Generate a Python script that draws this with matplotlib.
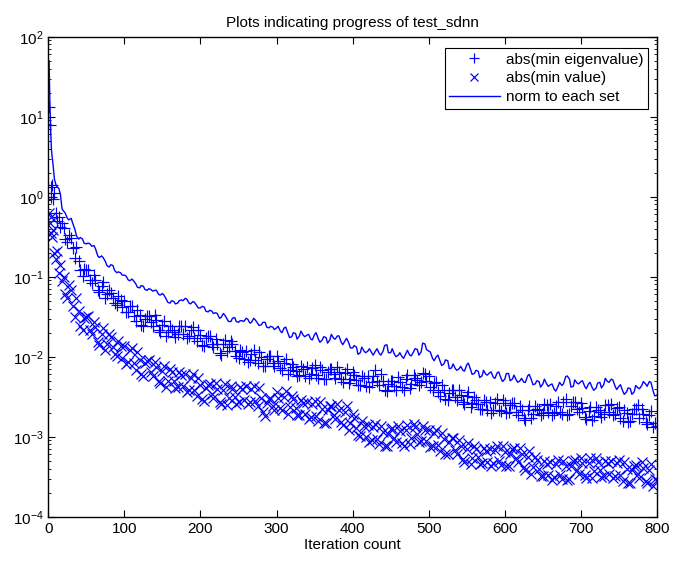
import numpy as np
import matplotlib
matplotlib.use("Agg")
import matplotlib.pyplot as plt
from matplotlib.ticker import FixedLocator, NullLocator, NullFormatter

plt.rcParams['font.family'] = ['Liberation Sans', 'DejaVu Sans']
plt.rcParams['mathtext.default'] = 'regular'

iters = [1, 2, 3, 4, 5, 6, 8, 10, 12, 14, 16, 18] + list(range(20, 801, 5))
iters_b = list(range(22, 800, 5))   # second reading, between the first ones

# values are read as decades on the log axis (plotted as 10**value)
eig_exp = [
    1.12, 0.90, 0.12, 0.00, 0.15, -0.03, 0.05, -0.20, -0.30, -0.25, -0.38, -0.33,
    -0.39, -0.56, -0.51, -0.77, -0.80, -0.99, -0.92, -1.04, -0.98, -1.16,
    -1.11, -1.26, -1.16, -1.27, -1.35, -1.29, -1.30, -1.44, -1.36, -1.55,
    -1.48, -1.62, -1.49, -1.57, -1.48, -1.66, -1.60, -1.74, -1.62, -1.69,
    -1.72, -1.62, -1.62, -1.74, -1.63, -1.80, -1.73, -1.86, -1.74, -1.84,
    -1.78, -1.95, -1.84, -1.93, -1.80, -1.93, -2.02, -1.94, -1.93, -2.04,
    -1.91, -2.08, -2.00, -2.12, -1.99, -2.08, -1.99, -2.14, -2.08, -2.22,
    -2.09, -2.18, -2.23, -2.15, -2.13, -2.22, -2.10, -2.27, -2.16, -2.28,
    -2.15, -2.22, -2.13, -2.28, -2.20, -2.33, -2.19, -2.29, -2.35, -2.27,
    -2.24, -2.32, -2.17, -2.35, -2.30, -2.43, -2.30, -2.37, -2.25, -2.38,
    -2.28, -2.39, -2.23, -2.29, -2.31, -2.21, -2.24, -2.41, -2.31, -2.49,
    -2.41, -2.54, -2.42, -2.50, -2.42, -2.56, -2.49, -2.63, -2.50, -2.59,
    -2.65, -2.57, -2.56, -2.66, -2.53, -2.68, -2.58, -2.69, -2.58, -2.69,
    -2.61, -2.76, -2.66, -2.77, -2.61, -2.67, -2.70, -2.60, -2.59, -2.70,
    -2.56, -2.71, -2.53, -2.71, -2.57, -2.65, -2.58, -2.75, -2.68, -2.79,
    -2.63, -2.69, -2.71, -2.60, -2.59, -2.72, -2.63, -2.80, -2.70, -2.80,
    -2.65, -2.60, -2.65, -2.81, -2.73, -2.88, -2.87,
]
eig_exp_b = [
    -0.53, -0.48, -0.64, -0.63, -0.92, -0.90, -0.92, -1.08, -1.04, -1.19,
    -1.06, -1.21, -1.20, -1.33, -1.24, -1.38, -1.44, -1.36, -1.49, -1.41,
    -1.60, -1.53, -1.49, -1.61, -1.54, -1.69, -1.55, -1.69, -1.66, -1.75,
    -1.61, -1.71, -1.76, -1.66, -1.76, -1.66, -1.85, -1.77, -1.74, -1.88,
    -1.84, -1.98, -1.79, -1.88, -1.84, -1.99, -1.91, -2.03, -2.07, -1.96,
    -2.04, -1.94, -2.12, -2.03, -1.99, -2.12, -2.05, -2.17, -2.03, -2.17,
    -2.13, -2.24, -2.12, -2.24, -2.27, -2.14, -2.23, -2.13, -2.28, -2.19,
    -2.15, -2.26, -2.19, -2.31, -2.15, -2.28, -2.23, -2.35, -2.24, -2.36,
    -2.38, -2.24, -2.30, -2.21, -2.42, -2.34, -2.30, -2.41, -2.31, -2.41,
    -2.23, -2.34, -2.27, -2.35, -2.20, -2.30, -2.38, -2.33, -2.44, -2.35,
    -2.53, -2.45, -2.42, -2.54, -2.48, -2.59, -2.44, -2.58, -2.54, -2.65,
    -2.54, -2.66, -2.70, -2.58, -2.66, -2.54, -2.70, -2.60, -2.58, -2.73,
    -2.67, -2.79, -2.61, -2.72, -2.65, -2.73, -2.59, -2.69, -2.73, -2.62,
    -2.69, -2.57, -2.73, -2.62, -2.57, -2.69, -2.64, -2.78, -2.63, -2.74,
    -2.67, -2.75, -2.60, -2.69, -2.73, -2.64, -2.76, -2.66, -2.82, -2.71,
    -2.65, -2.77, -2.71, -2.84, -2.68, -2.83,
]

minval_exp = [
    -0.20, -0.33, -0.45, -0.25, -0.50, -0.42, -0.70, -0.78, -0.68, -0.95, -0.85, -1.05,
    -1.00, -1.26, -1.17, -1.50, -1.43, -1.67, -1.50, -1.67, -1.56, -1.82,
    -1.71, -1.92, -1.71, -1.88, -1.99, -1.87, -1.87, -2.07, -1.89, -2.17,
    -2.04, -2.24, -2.05, -2.19, -2.06, -2.30, -2.18, -2.38, -2.15, -2.30,
    -2.38, -2.23, -2.22, -2.42, -2.22, -2.49, -2.35, -2.55, -2.35, -2.47,
    -2.33, -2.56, -2.41, -2.60, -2.36, -2.50, -2.57, -2.40, -2.37, -2.56,
    -2.36, -2.62, -2.51, -2.74, -2.53, -2.62, -2.44, -2.64, -2.50, -2.71,
    -2.49, -2.64, -2.73, -2.58, -2.56, -2.75, -2.55, -2.80, -2.65, -2.83,
    -2.62, -2.73, -2.59, -2.82, -2.69, -2.91, -2.72, -2.89, -2.99, -2.86,
    -2.85, -3.04, -2.84, -3.09, -2.94, -3.12, -2.90, -3.01, -2.86, -3.08,
    -2.92, -3.09, -2.84, -2.97, -3.05, -2.91, -2.91, -3.11, -2.91, -3.18,
    -3.03, -3.22, -3.02, -3.16, -3.04, -3.28, -3.15, -3.34, -3.11, -3.25,
    -3.33, -3.18, -3.15, -3.33, -3.11, -3.35, -3.19, -3.37, -3.15, -3.27,
    -3.14, -3.38, -3.25, -3.46, -3.25, -3.40, -3.49, -3.34, -3.32, -3.50,
    -3.29, -3.53, -3.36, -3.53, -3.30, -3.41, -3.26, -3.48, -3.33, -3.51,
    -3.27, -3.41, -3.49, -3.33, -3.30, -3.49, -3.29, -3.55, -3.40, -3.58,
    -3.36, -3.47, -3.32, -3.55, -3.41, -3.61, -3.54,
]
minval_exp_b = [
    -1.22, -1.10, -1.36, -1.27, -1.61, -1.51, -1.49, -1.72, -1.63, -1.85,
    -1.64, -1.84, -1.75, -1.97, -1.80, -2.01, -2.09, -1.91, -2.08, -1.94,
    -2.22, -2.08, -2.04, -2.24, -2.13, -2.33, -2.11, -2.30, -2.19, -2.39,
    -2.19, -2.37, -2.44, -2.26, -2.41, -2.26, -2.53, -2.39, -2.34, -2.52,
    -2.40, -2.59, -2.34, -2.52, -2.40, -2.59, -2.38, -2.54, -2.59, -2.40,
    -2.55, -2.39, -2.69, -2.58, -2.52, -2.67, -2.51, -2.67, -2.43, -2.63,
    -2.53, -2.73, -2.54, -2.72, -2.78, -2.59, -2.74, -2.57, -2.83, -2.67,
    -2.61, -2.78, -2.66, -2.85, -2.62, -2.83, -2.76, -2.98, -2.80, -3.00,
    -3.07, -2.88, -3.03, -2.86, -3.12, -2.96, -2.89, -3.06, -2.93, -3.11,
    -2.85, -3.01, -2.88, -3.06, -2.86, -3.05, -3.13, -2.95, -3.10, -2.95,
    -3.21, -3.06, -3.01, -3.21, -3.11, -3.31, -3.08, -3.26, -3.15, -3.34,
    -3.14, -3.32, -3.37, -3.17, -3.30, -3.12, -3.37, -3.21, -3.14, -3.32,
    -3.21, -3.41, -3.18, -3.38, -3.29, -3.49, -3.30, -3.48, -3.54, -3.34,
    -3.48, -3.30, -3.54, -3.37, -3.29, -3.46, -3.33, -3.51, -3.26, -3.43,
    -3.31, -3.50, -3.30, -3.47, -3.52, -3.33, -3.48, -3.32, -3.58, -3.42,
    -3.35, -3.52, -3.39, -3.58, -3.34, -3.53,
]

norm_exp = [
    1.70, 1.20, 0.85, 0.60, 0.50, 0.42, 0.22, 0.15, 0.12, 0.10, 0.02, -0.15,
    -0.18, -0.27, -0.27, -0.41, -0.53, -0.53, -0.59, -0.59, -0.61, -0.74,
    -0.74, -0.81, -0.88, -0.86, -0.95, -0.95, -0.98, -1.04, -1.03, -1.09,
    -1.14, -1.12, -1.17, -1.16, -1.17, -1.22, -1.21, -1.28, -1.33, -1.31,
    -1.33, -1.29, -1.27, -1.33, -1.31, -1.36, -1.39, -1.38, -1.44, -1.43,
    -1.45, -1.52, -1.46, -1.53, -1.56, -1.51, -1.57, -1.55, -1.52, -1.58,
    -1.52, -1.58, -1.60, -1.57, -1.64, -1.63, -1.64, -1.68, -1.64, -1.71,
    -1.75, -1.71, -1.74, -1.73, -1.73, -1.78, -1.72, -1.78, -1.79, -1.76,
    -1.79, -1.77, -1.74, -1.82, -1.80, -1.83, -1.89, -1.88, -1.95, -1.93,
    -1.93, -1.95, -1.93, -1.96, -1.93, -1.85, -1.95, -1.97, -1.98, -2.00,
    -1.96, -1.98, -1.94, -1.91, -1.94, -1.84, -1.93, -2.02, -2.00, -2.06,
    -2.09, -2.05, -2.14, -2.15, -2.15, -2.17, -2.10, -2.16, -2.21, -2.18,
    -2.24, -2.22, -2.20, -2.26, -2.20, -2.27, -2.28, -2.21, -2.28, -2.29,
    -2.30, -2.32, -2.24, -2.29, -2.34, -2.31, -2.34, -2.34, -2.35, -2.41,
    -2.37, -2.36, -2.25, -2.28, -2.37, -2.33, -2.31, -2.37, -2.34, -2.39,
    -2.39, -2.32, -2.35, -2.31, -2.28, -2.37, -2.37, -2.43, -2.44, -2.40,
    -2.44, -2.39, -2.36, -2.34, -2.31, -2.43, -2.48,
]
norm_exp_b = [
    -0.20, -0.29, -0.33, -0.49, -0.51, -0.58, -0.58, -0.62, -0.65, -0.76,
    -0.76, -0.86, -0.85, -0.92, -0.94, -0.98, -0.99, -1.05, -1.05, -1.13,
    -1.11, -1.16, -1.15, -1.18, -1.17, -1.23, -1.23, -1.32, -1.30, -1.34,
    -1.30, -1.30, -1.28, -1.34, -1.32, -1.39, -1.37, -1.43, -1.42, -1.46,
    -1.46, -1.51, -1.48, -1.56, -1.52, -1.56, -1.55, -1.56, -1.53, -1.57,
    -1.54, -1.61, -1.57, -1.63, -1.62, -1.66, -1.62, -1.70, -1.63, -1.76,
    -1.70, -1.78, -1.68, -1.75, -1.72, -1.79, -1.70, -1.82, -1.75, -1.83,
    -1.72, -1.78, -1.74, -1.85, -1.77, -1.89, -1.86, -1.97, -1.88, -1.95,
    -1.90, -1.98, -1.90, -1.98, -1.86, -1.95, -1.90, -2.00, -1.95, -2.02,
    -1.92, -1.99, -1.90, -1.98, -1.83, -1.91, -1.94, -2.05, -1.98, -2.11,
    -2.04, -2.15, -2.09, -2.17, -2.12, -2.18, -2.08, -2.22, -2.17, -2.26,
    -2.17, -2.23, -2.19, -2.27, -2.19, -2.31, -2.21, -2.30, -2.23, -2.32,
    -2.27, -2.32, -2.22, -2.35, -2.30, -2.38, -2.28, -2.37, -2.34, -2.43,
    -2.32, -2.34, -2.24, -2.38, -2.29, -2.34, -2.30, -2.40, -2.32, -2.42,
    -2.33, -2.39, -2.27, -2.32, -2.29, -2.41, -2.35, -2.47, -2.39, -2.47,
    -2.36, -2.40, -2.31, -2.37, -2.32, -2.49,
]

labels = ["abs(min eigenvalue)", "abs(min value)", "norm to each set"]
blue = "#0000ff"
y_major = [1e-4, 1e-3, 1e-2, 1e-1, 1e0, 1e1, 1e2]

x_all = np.array(iters + iters_b)
order = np.argsort(x_all)
eig = 10.0 ** np.array(eig_exp + eig_exp_b)
minval = 10.0 ** np.array(minval_exp + minval_exp_b)
norm = 10.0 ** np.array(norm_exp + norm_exp_b)

fig = plt.figure(figsize=(6.73, 5.63), dpi=100)
ax = fig.add_axes([0.0718, 0.0822, 0.9044, 0.8526])

ax.plot(x_all, eig, '+', color=blue, ms=8.5, mew=0.85, label=labels[0])
ax.plot(x_all, minval, 'x', color=blue, ms=7, mew=0.85, label=labels[1])
ax.plot(x_all[order], norm[order], '-', color=blue, lw=1.0, label=labels[2])

ax.set_yscale('log')
ax.set_xlim(0, 800)
ax.set_ylim(1e-4, 1e2)
ax.set_xticks(range(0, 801, 100))
ax.xaxis.set_minor_locator(NullLocator())
ax.yaxis.set_major_locator(FixedLocator(y_major))
ax.yaxis.set_minor_locator(FixedLocator([m * d for d in y_major[:-1] for m in range(2, 10)]))
ax.yaxis.set_minor_formatter(NullFormatter())
ax.tick_params(which='both', direction='in', top=True, right=True, labelsize=11)
ax.tick_params(which='major', length=5, width=0.8)
ax.tick_params(which='minor', length=2.5, width=0.6)
for s in ax.spines.values():
    s.set_linewidth(1.0)

ax.set_title("Plots indicating progress of test_sdnn", fontsize=11, pad=7)
ax.set_xlabel("Iteration count", fontsize=11, labelpad=2)

leg = ax.legend(loc='upper right', bbox_to_anchor=(0.985, 0.976), borderaxespad=0,
                fancybox=False, edgecolor='k', framealpha=1, fontsize=11,
                handlelength=3.3, labelspacing=0.3, borderpad=0.3, handletextpad=0.4,
                markerscale=0.8)
leg.get_frame().set_linewidth(0.8)

fig.savefig("out.png", dpi=100)
